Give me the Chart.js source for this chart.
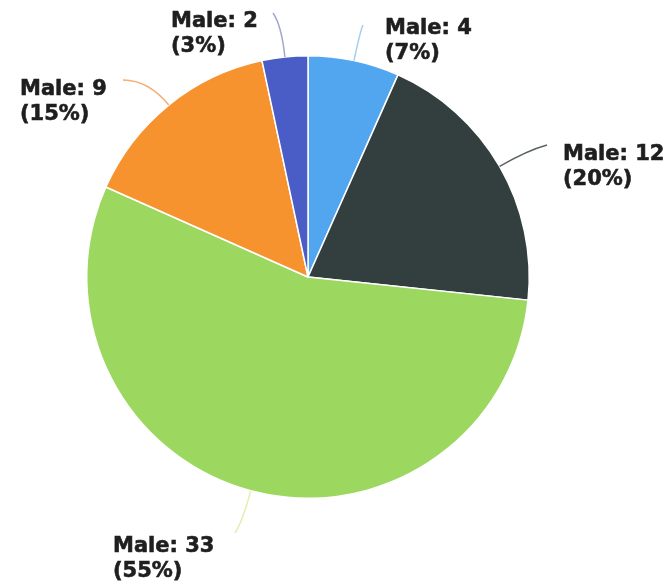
<!DOCTYPE html>
<html lang="en">
<head>
    <meta charset="UTF-8">
    <title>Male pie</title>
    <script src="https://cdn.jsdelivr.net/npm/chart.js"></script>
    <style>
        html, body { margin: 0; padding: 0; background: #fff; }
        .wrap { position: relative; width: 672px; height: 587px; }
    </style>
</head>
<body>
    <div class="wrap"><canvas id="pie"></canvas></div>

    <script>
        // slices, clockwise from 12 o'clock
        const categories = ['Male', 'Male', 'Male', 'Male', 'Male'];
        const values = [4, 12, 33, 9, 2];
        const colors = ['#52a6ef', '#333f3e', '#9cd860', '#f7932f', '#4a5cc6'];
        const leaderColors = ['#a3cdf0', '#5b6362', '#e4eeb4', '#f3ae70', '#a2a8cc'];

        // where each label sits (left x, first baseline) and where its leader line ends
        const labelPos = [[385, 34], [563, 160], [113, 552], [20, 95], [171, 27]];
        const leaderEnd = [[363, 25], [547, 145], [235, 533], [123, 80], [273, 13]];

        const total = values.reduce((a, b) => a + b, 0);

        const labelPlugin = {
            id: 'sliceLabels',
            afterDatasetsDraw(chart) {
                const ctx = chart.ctx;
                const arcs = chart.getDatasetMeta(0).data;
                ctx.save();
                arcs.forEach((arc, i) => {
                    const mid = (arc.startAngle + arc.endAngle) / 2;
                    const r = arc.outerRadius;
                    const sx = arc.x + Math.cos(mid) * r;
                    const sy = arc.y + Math.sin(mid) * r;
                    const cx = arc.x + Math.cos(mid) * (r + 32);
                    const cy = arc.y + Math.sin(mid) * (r + 32);
                    const [ex, ey] = leaderEnd[i];
                    ctx.beginPath();
                    ctx.moveTo(sx, sy);
                    ctx.quadraticCurveTo(cx, cy, ex, ey);
                    ctx.strokeStyle = leaderColors[i];
                    ctx.lineWidth = 1.5;
                    ctx.stroke();

                    const pct = Math.round(values[i] / total * 100);
                    const [lx, ly] = labelPos[i];
                    ctx.fillStyle = '#1f1f1f';
                    ctx.strokeStyle = '#1f1f1f';
                    ctx.lineWidth = 0.6;
                    ctx.font = 'bold 21px "DejaVu Sans"';
                    ctx.textAlign = 'left';
                    ctx.textBaseline = 'alphabetic';
                    const line1 = categories[i] + ': ' + values[i];
                    const line2 = '(' + pct + '%)';
                    ctx.fillText(line1, lx, ly);
                    ctx.strokeText(line1, lx, ly);
                    ctx.fillText(line2, lx, ly + 25);
                    ctx.strokeText(line2, lx, ly + 25);
                });
                ctx.restore();
            }
        };

        new Chart(document.getElementById('pie'), {
            type: 'pie',
            data: {
                labels: categories,
                datasets: [{
                    data: values,
                    backgroundColor: colors,
                    borderColor: '#ffffff',
                    borderWidth: 1.5
                }]
            },
            options: {
                responsive: true,
                maintainAspectRatio: false,
                animation: false,
                layout: { padding: { left: 86, right: 142, top: 55, bottom: 88 } },
                plugins: {
                    legend: { display: false },
                    tooltip: { enabled: false }
                }
            },
            plugins: [labelPlugin]
        });
    </script>
</body>
</html>
